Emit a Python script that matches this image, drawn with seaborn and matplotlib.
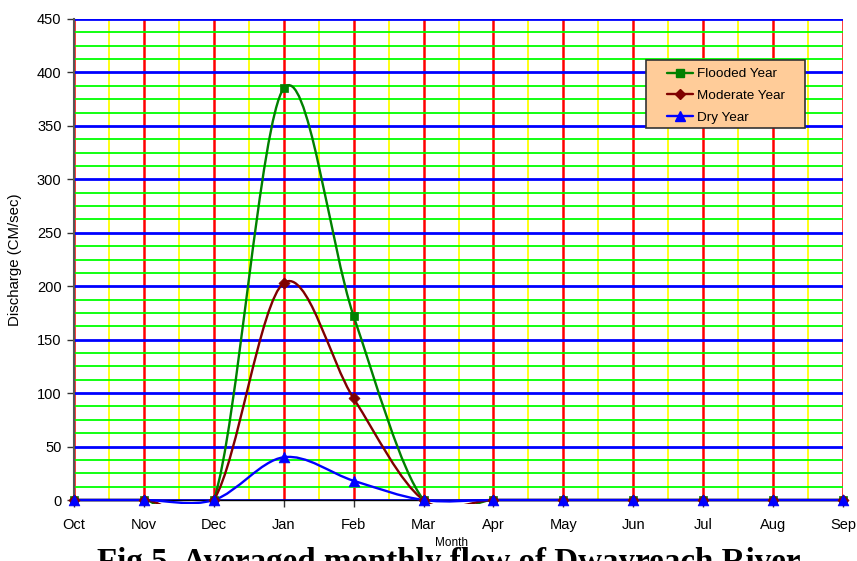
import numpy as np
import pandas as pd
import matplotlib
matplotlib.use("Agg")
import matplotlib.pyplot as plt
import seaborn as sns
from matplotlib.path import Path
from matplotlib.patches import PathPatch, Rectangle
from matplotlib.lines import Line2D
from matplotlib.ticker import MultipleLocator

months = ["Oct", "Nov", "Dec", "Jan", "Feb", "Mar", "Apr", "May", "Jun", "Jul", "Aug", "Sep"]
flooded = [0, 0, 0, 385, 172, 0, 0, 0, 0, 0, 0, 0]
moderate = [0, 0, 0, 203, 95, 0, 0, 0, 0, 0, 0, 0]
dry = [0, 0, 0, 40, 18, 0, 0, 0, 0, 0, 0, 0]
series_names = ["Flooded Year", "Moderate Year", "Dry Year"]
colors = ["#008000", "#800000", "#0000FF"]
marker_list = ["s", "D", "^"]
marker_sizes = [32, 32, 60]

sns.set_theme(style="white")
plt.rcParams['font.family'] = ['Liberation Sans', 'DejaVu Sans']
plt.rcParams['text.color'] = 'black'
plt.rcParams['axes.labelcolor'] = 'black'

rows = []
for name, vals in zip(series_names, [flooded, moderate, dry]):
    for i, v in enumerate(vals):
        rows.append({"pos": i, "month": months[i], "value": v, "series": name})
df = pd.DataFrame(rows)

fig = plt.figure(figsize=(8.57, 5.61), dpi=100)
ax = fig.add_axes([74 / 857, 61 / 561, 769 / 857, 481 / 561])


def smooth_path(xs, ys):
    n = len(xs)
    verts = [(xs[0], ys[0])]
    codes = [Path.MOVETO]
    for i in range(n - 1):
        a = i - 1 if i > 0 else 0
        b = i + 2 if i + 2 < n else n - 1
        c1 = (xs[i] + (xs[i + 1] - xs[a]) / 6.0, ys[i] + (ys[i + 1] - ys[a]) / 6.0)
        c2 = (xs[i + 1] - (xs[b] - xs[i]) / 6.0, ys[i + 1] - (ys[b] - ys[i]) / 6.0)
        verts += [c1, c2, (xs[i + 1], ys[i + 1])]
        codes += [Path.CURVE4] * 3
    return Path(verts, codes)


clip_rect = Rectangle((-0.01, -0.008), 1.02, 1.02, transform=ax.transAxes)
for name, col in zip(series_names, colors):
    sub = df[df.series == name]
    p = PathPatch(smooth_path(sub.pos.tolist(), sub.value.tolist()), facecolor="none",
                  edgecolor=col, lw=1.7, zorder=3, transform=ax.transData)
    ax.add_patch(p)
    p.set_clip_path(clip_rect)

for name, col, mk, ms in zip(series_names, colors, marker_list, marker_sizes):
    sub = df[df.series == name]
    sns.scatterplot(data=sub, x="pos", y="value", ax=ax, color=col, marker=mk, s=ms,
                    edgecolor=col, linewidth=0.5, zorder=4, clip_on=False, legend=False)

ax.set_xlim(0, 11)
ax.set_ylim(0, 450)
ax.set_xticks(range(len(months)))
ax.set_xticklabels(months)
ax.set_yticks(np.arange(0, 451, 50))
ax.xaxis.set_minor_locator(MultipleLocator(0.5))
ax.yaxis.set_minor_locator(MultipleLocator(12.5))

ax.grid(which="minor", axis="y", color="#00FF00", lw=1.3, zorder=0)
ax.grid(which="minor", axis="x", color="#FFFF00", lw=1.3, zorder=0)
ax.grid(which="major", axis="y", color="#0000FF", lw=2.0, zorder=1)
ax.grid(which="major", axis="x", color="#FF0000", lw=1.8, zorder=1)
ax.set_axisbelow(True)

for s in ["top", "right"]:
    ax.spines[s].set_visible(False)
ax.spines["left"].set_color("#555555")
ax.spines["left"].set_linewidth(1.5)
ax.spines["bottom"].set_color("black")
ax.spines["bottom"].set_linewidth(1.0)

ax.tick_params(axis="both", which="major", direction="out", length=5, width=1,
               color="#333333", labelsize=10.5, labelcolor="black", bottom=True, left=True)
ax.tick_params(axis="x", which="major", pad=8)
ax.tick_params(axis="y", which="major", pad=4)
ax.tick_params(which="minor", length=0)

ax.set_xlabel("Month", fontsize=8.5, color="black")
ax.set_ylabel("Discharge (CM/sec)", fontsize=10.8, color="black")
ax.xaxis.set_label_coords((451 - 74) / 769, -(537 - 500) / 481)
ax.yaxis.set_label_coords(-(74 - 22) / 769, (500 - 260) / 481)

# legend box
ax.add_patch(Rectangle(((646 - 74) / 769, (500 - 128) / 481), 159 / 769, 68 / 481,
                       transform=ax.transAxes, facecolor="#FFCC99", edgecolor="#333333",
                       lw=1.2, zorder=5, clip_on=False))
handles = [Line2D([0], [0], color=c, marker=m, lw=1.7, markersize=ms)
           for c, m, ms in zip(colors, marker_list, [5.5, 5.5, 7.5])]
leg = ax.legend(handles, series_names, loc="upper left",
                bbox_to_anchor=((667 - 74) / 769, (500 - 68) / 481),
                fontsize=9.7, frameon=False, borderpad=0, borderaxespad=0,
                handlelength=1.9, handletextpad=0.3, labelspacing=0.68)
for t in leg.get_texts():
    t.set_color("black")
leg.set_zorder(6)

fig.text(448.5 / 857, -10 / 561, "Fig 5. Averaged monthly flow of Dwayreach River", ha="center",
         va="baseline", fontsize=23.8, fontweight="bold", family="Liberation Serif", color="black")

fig.savefig("out.png", dpi=100)
